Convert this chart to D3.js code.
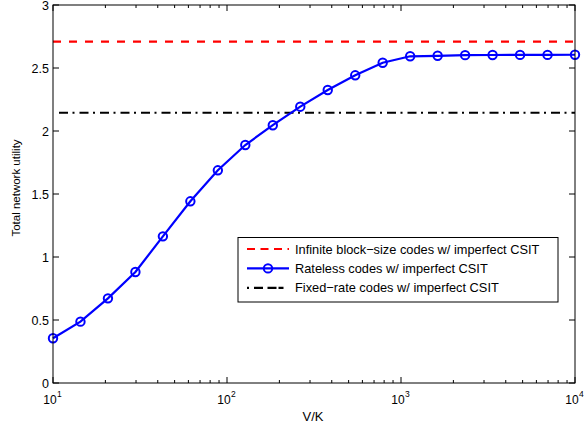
<!DOCTYPE html>
<meta charset="utf-8">
<script src="https://d3js.org/d3.v7.min.js"></script>
<style>
  body { margin: 0; background: #fff; }
  text { font-family: "Liberation Sans", Arial, sans-serif; fill: #000; }
</style>
<div id="chart"></div>

<script>

    // data
    const vk = [10, 14.38, 20.69, 29.76, 42.81, 61.58, 88.59, 127.4, 183.3, 263.7,
                379.3, 545.6, 784.8, 1129, 1624, 2336, 3360, 4833, 6952, 10000];
    const rateless = [0.355, 0.487, 0.672, 0.881, 1.164, 1.442, 1.688, 1.889, 2.046, 2.193,
                      2.325, 2.442, 2.542, 2.593, 2.597, 2.602, 2.603, 2.604, 2.604, 2.605];
    const infiniteLevel = 2.709;
    const fixedLevel = 2.145;
    const yTicks = [0, 0.5, 1, 1.5, 2, 2.5, 3];
    const xTicks = [10, 100, 1000, 10000];
    const legendLabels = [
        "Infinite block\u2212size codes w/ imperfect CSIT",
        "Rateless codes w/ imperfect CSIT",
        "Fixed\u2212rate codes w/ imperfect CSIT"
    ];

    const margin = {top: 5, right: 11, bottom: 45, left: 53},
        width = 586 - margin.left - margin.right,
        height = 428 - margin.top - margin.bottom;

    const svg = d3.select("#chart")
        .append("svg")
        .attr("width", 586)
        .attr("height", 428)
        .append("g")
        .attr("transform", `translate(${margin.left}, ${margin.top})`);

    const x = d3.scaleLog()
        .domain([10, 10000])
        .range([0, width]);
    const y = d3.scaleLinear()
        .domain([0, 3])
        .range([height, 0]);

    // minor log ticks
    const minor = [];
    for (let d = 10; d < 10000; d *= 10) {
        for (let k = 2; k <= 9; k++) minor.push(d * k);
    }

    const ticks = svg.append("g").attr("stroke", "#000").attr("stroke-width", 1);
    minor.forEach(v => {
        ticks.append("line").attr("x1", x(v)).attr("x2", x(v)).attr("y1", height).attr("y2", height - 3);
        ticks.append("line").attr("x1", x(v)).attr("x2", x(v)).attr("y1", 0).attr("y2", 3);
    });
    xTicks.forEach(v => {
        ticks.append("line").attr("x1", x(v)).attr("x2", x(v)).attr("y1", height).attr("y2", height - 6);
        ticks.append("line").attr("x1", x(v)).attr("x2", x(v)).attr("y1", 0).attr("y2", 6);
    });
    yTicks.forEach(v => {
        ticks.append("line").attr("x1", 0).attr("x2", 6).attr("y1", y(v)).attr("y2", y(v));
        ticks.append("line").attr("x1", width).attr("x2", width - 6).attr("y1", y(v)).attr("y2", y(v));
    });

    // tick labels
    svg.append("g")
        .selectAll("text")
        .data(yTicks)
        .join("text")
        .attr("x", -4)
        .attr("y", d => y(d) + 4.5)
        .attr("text-anchor", "end")
        .style("font-size", "12.5px")
        .text(d => d);

    const xl = svg.append("g")
        .selectAll("g")
        .data(xTicks)
        .join("g")
        .attr("transform", d => `translate(${x(d)}, ${height + 21})`);
    xl.append("text")
        .attr("text-anchor", "middle")
        .attr("x", -3)
        .style("font-size", "12px")
        .text("10");
    xl.append("text")
        .attr("x", 4)
        .attr("y", -7)
        .style("font-size", "8.5px")
        .text(d => Math.round(Math.log10(d)));

    // axis titles
    svg.append("text")
        .attr("x", 313 - margin.left)
        .attr("y", height + 38)
        .attr("text-anchor", "middle")
        .style("font-size", "13px")
        .text("V/K");
    svg.append("text")
        .attr("transform", `translate(-33, ${188 - margin.top}) rotate(-90)`)
        .attr("text-anchor", "middle")
        .style("font-size", "11.5px")
        .text("Total network utility");

    // reference levels
    svg.append("line")
        .attr("x1", 0).attr("x2", width)
        .attr("y1", y(infiniteLevel)).attr("y2", y(infiniteLevel))
        .attr("stroke", "#ff0000")
        .attr("stroke-width", 2.2)
        .attr("stroke-dasharray", "8,8");
    svg.append("line")
        .attr("x1", 6).attr("x2", width)
        .attr("y1", y(fixedLevel)).attr("y2", y(fixedLevel))
        .attr("stroke", "#000")
        .attr("stroke-width", 2.2)
        .attr("stroke-dasharray", "9,4.5,2,5");

    // rateless curve
    const pts = vk.map((v, i) => ({v: v, u: rateless[i]}));
    svg.append("path")
        .datum(pts)
        .attr("fill", "none")
        .attr("stroke", "#0000ff")
        .attr("stroke-width", 2.2)
        .attr("d", d3.line().x(d => x(d.v)).y(d => y(d.u)));
    svg.append("g")
        .selectAll("circle")
        .data(pts)
        .join("circle")
        .attr("cx", d => x(d.v))
        .attr("cy", d => y(d.u))
        .attr("r", 4.2)
        .attr("fill", "none")
        .attr("stroke", "#0000ff")
        .attr("stroke-width", 2);

    // box
    svg.append("rect")
        .attr("width", width)
        .attr("height", height)
        .attr("fill", "none")
        .attr("stroke", "#000")
        .attr("stroke-width", 1);

    // legend
    const lg = svg.append("g").attr("transform", `translate(${238 - margin.left}, ${237.5 - margin.top})`);
    lg.append("rect")
        .attr("width", 320)
        .attr("height", 64.5)
        .attr("fill", "#fff")
        .attr("stroke", "#000")
        .attr("stroke-width", 1);
    const styles = [
        {color: "#ff0000", dash: "8,5.5", marker: false},
        {color: "#0000ff", dash: null, marker: true},
        {color: "#000", dash: "2,5,9,4.5,9", marker: false}
    ];
    legendLabels.forEach((t, i) => {
        const yy = 11.5 + i * 19.4;
        const s = styles[i];
        lg.append("line")
            .attr("x1", 9).attr("x2", 51)
            .attr("y1", yy).attr("y2", yy)
            .attr("stroke", s.color)
            .attr("stroke-width", 2.2)
            .attr("stroke-dasharray", s.dash);
        if (s.marker) {
            lg.append("circle")
                .attr("cx", 30).attr("cy", yy).attr("r", 4.2)
                .attr("fill", "none")
                .attr("stroke", s.color)
                .attr("stroke-width", 2);
        }
        lg.append("text")
            .attr("x", 57)
            .attr("y", yy + 4.5)
            .style("font-size", "12.8px")
            .text(t);
    });

</script>
